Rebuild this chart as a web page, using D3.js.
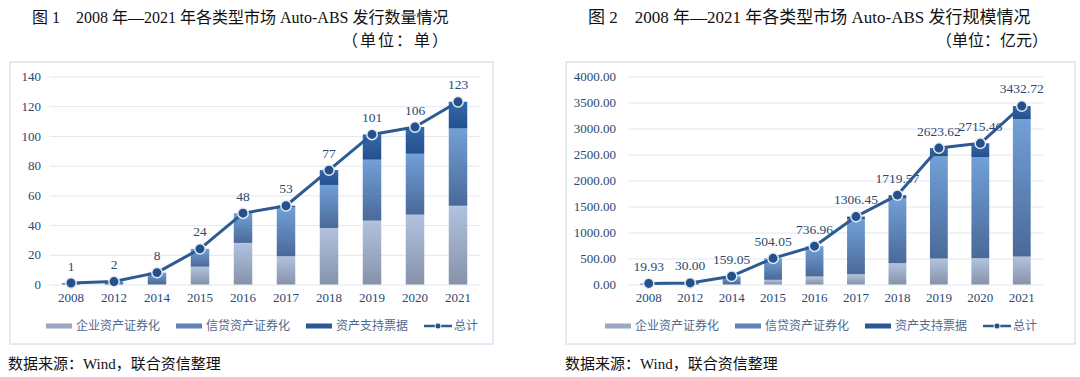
<!DOCTYPE html>
<html>
<head>
<meta charset="utf-8">
<script src="https://cdnjs.cloudflare.com/ajax/libs/d3/7.8.5/d3.min.js"></script>
<style>
  body { margin: 0; background: #fff; }
  svg { display: block; }
</style>
</head>
<body>
<div id="my_datavis"></div>
<script>
// data
const years = ["2008", "2012", "2014", "2015", "2016", "2017", "2018", "2019", "2020", "2021"];
const seriesNames = ["企业资产证券化", "信贷资产证券化", "资产支持票据", "总计"];

// figure 1: number of deals (单)
const countCorp = [0, 0, 0, 12, 28, 19, 38, 43, 47, 53];
const countCredit = [1, 2, 8, 12, 20, 33, 29, 41, 41, 52];
const countAbn = [0, 0, 0, 0, 0, 1, 10, 17, 18, 18];
const countTotal = [1, 2, 8, 24, 48, 53, 77, 101, 106, 123];
const countTicks = [0, 20, 40, 60, 80, 100, 120, 140];

// figure 2: issue size (亿元)
const sizeCorp = [0, 0, 0, 90, 154, 197, 410, 499, 506, 537];
const sizeCredit = [19.93, 30.0, 159.05, 414.05, 582.96, 1059.45, 1244.57, 1964.62, 1944.46, 2641.72];
const sizeAbn = [0, 0, 0, 0, 0, 50, 65, 160, 265, 254];
const sizeTotal = [19.93, 30.0, 159.05, 504.05, 736.96, 1306.45, 1719.57, 2623.62, 2715.46, 3432.72];
const sizeTicks = [0, 500, 1000, 1500, 2000, 2500, 3000, 3500, 4000];

const W = 1080, H = 377;
const serif = "'Liberation Serif', 'Noto Sans CJK SC', serif";
const axisColor = "#2b4872";
const lineColor = "#2e5a93";

const svg = d3.select("#my_datavis")
  .append("svg")
  .attr("width", W)
  .attr("height", H);

// gradients for the stacked segments
const defs = svg.append("defs");
const gradStops = [
  ["corp", "#b2c2df", "#8592aa"],
  ["credit", "#72a0d7", "#4a6998"],
  ["abn", "#3468ae", "#24508c"],
];
gradStops.forEach(([id, top, bottom]) => {
  const g = defs.append("linearGradient")
    .attr("id", "g-" + id)
    .attr("x1", 0).attr("y1", 0).attr("x2", 0).attr("y2", 1);
  g.append("stop").attr("offset", "0%").attr("stop-color", top);
  g.append("stop").attr("offset", "100%").attr("stop-color", bottom);
});
const legendFill = ["#9aa8c1", "#5e82b9", "#2b5797"];

function drawChart(cfg) {
  const root = svg.append("g");

  // title and unit
  root.append("text")
    .attr("x", cfg.titleX)
    .attr("y", 17)
    .attr("dominant-baseline", "central")
    .attr("font-family", serif)
    .attr("font-size", cfg.titleSize)
    .attr("fill", "#111")
    .text(cfg.title);
  root.append("text")
    .attr("x", cfg.unitX)
    .attr("y", 40)
    .attr("text-anchor", "end")
    .attr("dominant-baseline", "central")
    .attr("font-family", serif)
    .attr("font-size", 16)
    .attr("letter-spacing", cfg.unitSpacing)
    .attr("fill", "#111")
    .text(cfg.unit);

  // framed panel
  root.append("rect")
    .attr("x", cfg.panel[0])
    .attr("y", 62)
    .attr("width", cfg.panel[1] - cfg.panel[0])
    .attr("height", 282)
    .attr("fill", "#fff")
    .attr("stroke", "#dbe4f0")
    .attr("stroke-width", 1.5);

  const x = d3.scaleBand()
    .domain(years)
    .range(cfg.xRange)
    .paddingInner(0.57)
    .paddingOuter(0.285);

  const y = d3.scaleLinear()
    .domain([0, cfg.yMax])
    .range([284.5, 76.5]);

  // gridlines + y labels
  const yAxis = d3.axisLeft(y)
    .tickValues(cfg.ticks)
    .tickSize(-(cfg.xRange[1] - cfg.xRange[0]))
    .tickPadding(cfg.xRange[0] - cfg.yLabelX)
    .tickFormat(cfg.tickFormat);
  const ya = root.append("g")
    .attr("transform", `translate(${cfg.xRange[0]},0)`)
    .call(yAxis);
  ya.select(".domain").remove();
  ya.selectAll(".tick line")
    .attr("stroke", "#e1e8f2")
    .attr("stroke-width", 1);
  ya.selectAll(".tick text")
    .attr("font-family", serif)
    .attr("font-size", 13)
    .attr("fill", axisColor);

  // x labels
  const xAxis = d3.axisBottom(x).tickSize(0).tickPadding(8);
  const xa = root.append("g")
    .attr("transform", "translate(0,284.5)")
    .call(xAxis);
  xa.select(".domain").remove();
  xa.selectAll(".tick text")
    .attr("font-family", serif)
    .attr("font-size", 13)
    .attr("fill", axisColor);

  // stacked bars
  const rows = years.map((yr, i) => ({
    year: yr,
    corp: cfg.corp[i],
    credit: cfg.credit[i],
    abn: cfg.abn[i],
    total: cfg.total[i],
  }));
  const stack = d3.stack().keys(["corp", "credit", "abn"])(rows);
  root.append("g")
    .selectAll("g")
    .data(stack)
    .join("g")
    .attr("fill", (d) => `url(#g-${d.key})`)
    .selectAll("rect")
    .data((d) => d.filter((s) => s[1] - s[0] > 0))
    .join("rect")
    .attr("x", (d) => x(d.data.year))
    .attr("width", x.bandwidth())
    .attr("y", (d) => y(d[1]))
    .attr("height", (d) => y(d[0]) - y(d[1]));

  // value labels (under the line, as in the original)
  root.append("g")
    .selectAll("text")
    .data(rows)
    .join("text")
    .attr("x", (d) => x(d.year) + x.bandwidth() / 2)
    .attr("y", (d) => y(d.total) - 17)
    .attr("text-anchor", "middle")
    .attr("dominant-baseline", "central")
    .attr("font-family", serif)
    .attr("font-size", 13.5)
    .attr("fill", axisColor)
    .text((d) => cfg.labelFormat(d.total));

  // total line
  const line = d3.line()
    .x((d) => x(d.year) + x.bandwidth() / 2)
    .y((d) => y(d.total));
  root.append("path")
    .datum(rows)
    .attr("d", line)
    .attr("fill", "none")
    .attr("stroke", lineColor)
    .attr("stroke-width", 3)
    .attr("stroke-linejoin", "round");

  root.append("g")
    .selectAll("circle")
    .data(rows)
    .join("circle")
    .attr("cx", (d) => x(d.year) + x.bandwidth() / 2)
    .attr("cy", (d) => y(d.total))
    .attr("r", 5.2)
    .attr("fill", "#24508c")
    .attr("stroke", "#e3e9f2")
    .attr("stroke-width", 1.5);

  // legend, centred on the given point
  const leg = root.append("g");
  let cursor = 0;
  seriesNames.forEach((name, i) => {
    const item = leg.append("g").attr("transform", `translate(${cursor},0)`);
    if (i < 3) {
      item.append("rect")
        .attr("x", 0).attr("y", -2.5)
        .attr("width", 26).attr("height", 5)
        .attr("fill", legendFill[i]);
    } else {
      item.append("line")
        .attr("x1", 0).attr("x2", 28)
        .attr("y1", 0).attr("y2", 0)
        .attr("stroke", lineColor)
        .attr("stroke-width", 2.5);
      item.append("circle")
        .attr("cx", 14).attr("cy", 0).attr("r", 3)
        .attr("fill", "#24508c")
        .attr("stroke", "#e3e9f2")
        .attr("stroke-width", 1);
    }
    const t = item.append("text")
      .attr("x", 30)
      .attr("y", 0)
      .attr("dominant-baseline", "central")
      .attr("font-family", serif)
      .attr("font-size", 12)
      .attr("fill", "#4d6890")
      .text(name);
    cursor += 30 + t.node().getComputedTextLength() + 16;
  });
  const legW = cursor - 16;
  leg.attr("transform", `translate(${cfg.legendCx - legW / 2},326)`);

  // source note
  root.append("text")
    .attr("x", cfg.sourceX)
    .attr("y", 364)
    .attr("dominant-baseline", "central")
    .attr("font-family", serif)
    .attr("font-size", 15)
    .attr("fill", "#111")
    .text("数据来源：Wind，联合资信整理");
}

drawChart({
  title: "图 1　2008 年—2021 年各类型市场 Auto-ABS 发行数量情况",
  titleSize: 16,
  unit: "（单位：单）",
  unitSpacing: 2,
  titleX: 32,
  unitX: 450,
  panel: [10, 493],
  xRange: [49.5, 479.5],
  yLabelX: 41,
  legendCx: 262,
  sourceX: 8,
  yMax: 140,
  ticks: countTicks,
  tickFormat: d3.format("d"),
  labelFormat: d3.format("d"),
  corp: countCorp,
  credit: countCredit,
  abn: countAbn,
  total: countTotal,
});

drawChart({
  title: "图 2　2008 年—2021 年各类型市场 Auto-ABS 发行规模情况",
  titleSize: 17,
  unit: "（单位：亿元）",
  unitSpacing: 0,
  titleX: 588,
  unitX: 1048,
  panel: [566, 1075],
  xRange: [628, 1042.5],
  yLabelX: 616,
  legendCx: 821,
  sourceX: 565,
  yMax: 4000,
  ticks: sizeTicks,
  tickFormat: d3.format(".2f"),
  labelFormat: d3.format(".2f"),
  corp: sizeCorp,
  credit: sizeCredit,
  abn: sizeAbn,
  total: sizeTotal,
});
</script>
</body>
</html>
